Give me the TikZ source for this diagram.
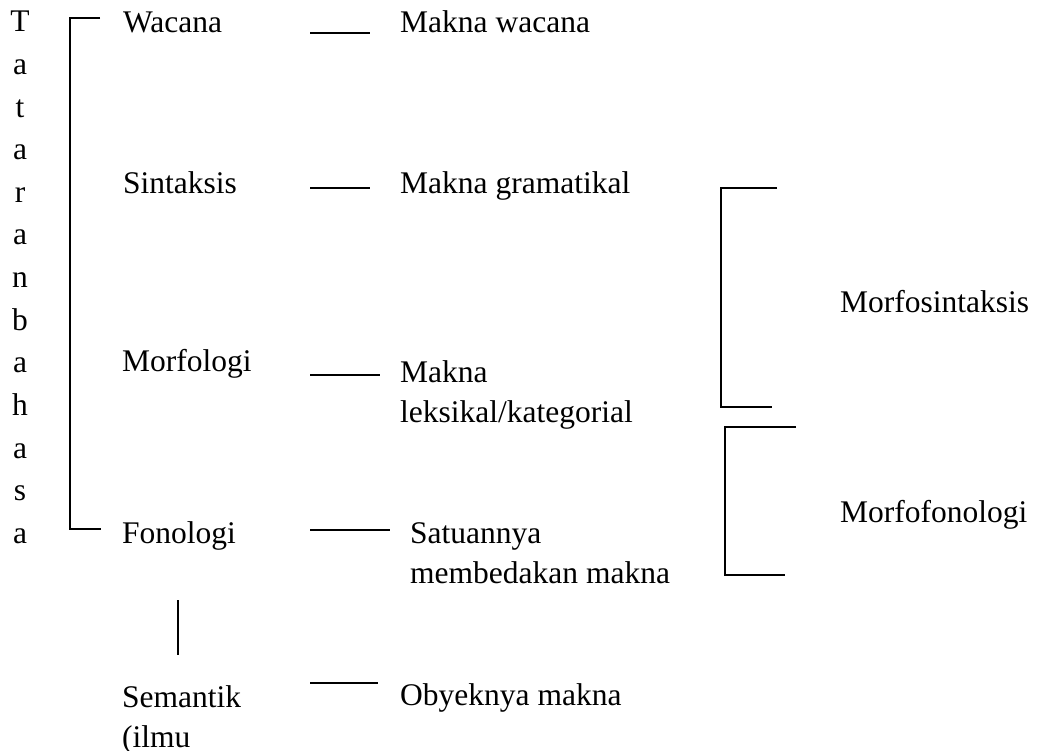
\documentclass[tikz,border=0pt]{standalone}
\usepackage{fontspec}
\setmainfont{Liberation Serif}
\begin{document}
\begin{tikzpicture}[x=1pt,y=-1pt,
  lbl/.style={anchor=base west,inner sep=0pt,font=\fontsize{31.5}{40}\selectfont},
  two/.style={lbl,align=left},
  vl/.style={anchor=base,inner sep=0pt,font=\fontsize{31.5}{40}\selectfont},
  ln/.style={line width=1.5pt}]
\useasboundingbox (0,0) rectangle (1042,751);
% vertical title
\foreach \ch [count=\i] in {T,a,t,a,r,a,n,b,a,h,a,s,a}{
  \node[vl] (l\i) at (20,{32+(\i-1)*42.6}) {\ch};
}
% left column
\node[lbl] (wacana) at (123,33) {Wacana};
\node[lbl] (sintaksis) at (123,194) {Sintaksis};
\node[lbl] (morfologi) at (122,372) {Morfologi};
\node[lbl] (fonologi) at (122,543) {Fonologi};
\node[lbl] (semantik) at (122,707) {Semantik};
\node[lbl] (ilmu) at (122,747) {(ilmu};
% meanings
\node[lbl] (mwacana) at (400,33) {Makna wacana};
\node[lbl] (mgram) at (400,194) {Makna gramatikal};
\node[lbl] (mleks1) at (400,382) {Makna};
\node[lbl] (mleks2) at (400,422) {leksikal/kategorial};
\node[lbl] (sat1) at (410,543) {Satuannya};
\node[lbl] (sat2) at (410,583) {membedakan makna};
\node[lbl] (oby) at (400,705) {Obyeknya makna};
% right labels
\node[lbl] (msint) at (840,313) {Morfosintaksis};
\node[lbl] (mfon) at (840,522) {Morfofonologi};
% left bracket
\coordinate (bt) at (100,18);
\coordinate (btc) at (70,18);
\coordinate (bbc) at (70,529);
\coordinate (bb) at (101,529);
\draw[ln] (bt) -- (btc) -- (bbc) -- (bb);
% connector lines
\coordinate (c1a) at (310,33); \coordinate (c1b) at (370,33);
\coordinate (c2a) at (310,188); \coordinate (c2b) at (370,188);
\coordinate (c3a) at (310,375); \coordinate (c3b) at (380,375);
\coordinate (c4a) at (310,530); \coordinate (c4b) at (390,530);
\coordinate (c5a) at (310,683); \coordinate (c5b) at (378,683);
\draw[ln] (c1a) -- (c1b);
\draw[ln] (c2a) -- (c2b);
\draw[ln] (c3a) -- (c3b);
\draw[ln] (c4a) -- (c4b);
\draw[ln] (c5a) -- (c5b);
% fonologi - semantik vertical
\coordinate (v1) at (178,600); \coordinate (v2) at (178,655);
\draw[ln] (v1) -- (v2);
% right brackets
\coordinate (r1a) at (777,188); \coordinate (r1b) at (721,188);
\coordinate (r1c) at (721,407); \coordinate (r1d) at (772,407);
\draw[ln] (r1a) -- (r1b) -- (r1c) -- (r1d);
\coordinate (r2a) at (796,427); \coordinate (r2b) at (725,427);
\coordinate (r2c) at (725,575); \coordinate (r2d) at (785,575);
\draw[ln] (r2a) -- (r2b) -- (r2c) -- (r2d);
\end{tikzpicture}
\end{document}
